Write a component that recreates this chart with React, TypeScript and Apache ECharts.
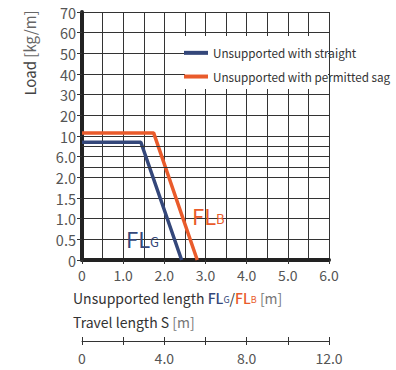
import React, { useEffect, useRef } from "react";
import * as echarts from "echarts";

// ---- data ----
const xMax = 6;
const yTickValues = [0, 0.5, 1, 1.5, 2, 6, 10, 20, 30, 40, 50, 60, 70];
const yTickLabels = ["0", "0.5", "1.0", "1.5", "2.0", "6.0", "10", "20", "30", "40", "50", "60", "70"];
const extraGridLoads = [4, 8];
const straightLength = [0, 1.43, 2.42];
const straightLoad = [8.8, 8.8, 0];
const sagLength = [0, 1.74, 2.8];
const sagLoad = [11.5, 11.5, 0];
const travelMax = 12;
const travelLabelled = [0, 4, 8, 12];
const seriesNames = ["Unsupported with straight", "Unsupported with permitted sag"];

const FONT = '"Noto Sans CJK JP", "Noto Sans", sans-serif';
const BLUE = "#34477a";
const ORANGE = "#e95b2b";
const GRID = "#333";

// piecewise mapping from load value to position on the (non-linear) load axis
function loadToPos(v: number): number {
  for (let i = 1; i < yTickValues.length; i++) {
    const a = yTickValues[i - 1];
    const b = yTickValues[i];
    if (v <= b) return i - 1 + (v - a) / (b - a);
  }
  return yTickValues.length - 1;
}

const fmtNum = (v: number) => (v === 0 ? "0" : v.toFixed(1));

export default function App() {
  const ref = useRef<HTMLDivElement>(null);
  useEffect(() => {
    if (!ref.current) return;
    const chart = echarts.init(ref.current, null, { renderer: "svg" });
    const option: any = {
      animation: false,
      textStyle: { fontFamily: FONT },
      grid: [
        { left: 82, top: 12, width: 247, height: 248 },
        { left: 82, top: 340, width: 247, height: 1 },
      ],
      xAxis: [
        {
          type: "value",
          gridIndex: 0,
          min: 0,
          max: xMax,
          interval: 1,
          axisLine: { show: true, onZero: false, lineStyle: { color: "#222", width: 4 } },
          axisTick: { show: true, length: 4, lineStyle: { color: GRID } },
          axisLabel: { formatter: fmtNum, color: "#555", fontSize: 14, margin: 8, fontFamily: FONT },
          splitLine: { show: true, lineStyle: { color: GRID, width: 1 } },
          minorTick: { show: false, splitNumber: 2 },
          minorSplitLine: { show: true, lineStyle: { color: GRID, width: 1 } },
        },
        {
          type: "value",
          gridIndex: 1,
          min: 0,
          max: travelMax,
          interval: 2,
          position: "bottom",
          axisLine: { show: true, onZero: false, lineStyle: { color: GRID, width: 1 } },
          axisTick: { show: true, length: 4, lineStyle: { color: GRID } },
          axisLabel: {
            formatter: (v: number) => (travelLabelled.includes(v) ? fmtNum(v) : ""),
            color: "#555",
            fontSize: 14,
            margin: 10,
            fontFamily: FONT,
          },
          splitLine: { show: false },
        },
        {
          type: "value",
          gridIndex: 1,
          min: 0,
          max: travelMax,
          interval: 2,
          position: "bottom",
          axisLine: { show: false },
          axisTick: { show: true, inside: true, length: 4, lineStyle: { color: GRID } },
          axisLabel: { show: false },
          splitLine: { show: false },
        },
      ],
      yAxis: [
        {
          type: "value",
          gridIndex: 0,
          min: 0,
          max: yTickValues.length - 1,
          interval: 1,
          axisLine: { show: true, onZero: false, lineStyle: { color: "#222", width: 4 } },
          axisTick: { show: true, length: 5, lineStyle: { color: GRID } },
          axisLabel: {
            formatter: (v: number) => yTickLabels[Math.round(v)] ?? "",
            color: "#555",
            fontSize: 14.5,
            margin: 6,
            fontFamily: FONT,
          },
          splitLine: { show: true, lineStyle: { color: GRID, width: 1 } },
        },
        { type: "value", gridIndex: 1, show: false, min: 0, max: 1 },
      ],
      legend: {
        data: seriesNames,
        orient: "vertical",
        left: 184,
        top: 47,
        padding: 0,
        itemWidth: 24,
        itemHeight: 4,
        itemGap: 12,
        icon: "rect",
        z: 6,
        textStyle: { fontSize: 11.7, color: "#333", fontFamily: FONT },
      },
      series: [
        {
          name: "grid-extra",
          type: "line",
          data: [],
          z: 1,
          silent: true,
          markLine: {
            silent: true,
            symbol: ["none", "none"],
            label: { show: false },
            lineStyle: { color: GRID, width: 1, type: "solid" },
            data: extraGridLoads.map((v) => ({ yAxis: loadToPos(v) })),
          },
        },
        {
          name: seriesNames[0],
          type: "line",
          xAxisIndex: 0,
          yAxisIndex: 0,
          showSymbol: false,
          symbol: "none",
          color: BLUE,
          lineStyle: { color: BLUE, width: 3.5 },
          data: straightLength.map((x, i) => [x, loadToPos(straightLoad[i])]),
        },
        {
          name: seriesNames[1],
          type: "line",
          xAxisIndex: 0,
          yAxisIndex: 0,
          showSymbol: false,
          symbol: "none",
          color: ORANGE,
          lineStyle: { color: ORANGE, width: 3.5 },
          data: sagLength.map((x, i) => [x, loadToPos(sagLoad[i])]),
        },
      ],
      graphic: [
        {
          type: "rect",
          z: 3,
          shape: { x: 185, y: 36, width: 143, height: 53 },
          style: { fill: "#fff" },
          silent: true,
        },
        {
          type: "text",
          x: 29,
          y: 53,
          rotation: Math.PI / 2,
          style: {
            text: "{a|Load }{b|[kg/m]}",
            align: "center",
            verticalAlign: "middle",
            rich: {
              a: { fontSize: 15, fill: "#444", fontFamily: FONT },
              b: { fontSize: 15, fill: "#666", fontFamily: FONT },
            },
          },
        },
        {
          type: "text",
          x: 73,
          y: 298,
          style: {
            text: "{a|Unsupported length }{fb|FL}{sb|G}{a|/}{fo|FL}{so|B}{m| [m]}",
            verticalAlign: "middle",
            rich: {
              a: { fontSize: 14, fill: "#333", fontFamily: FONT, verticalAlign: "bottom" },
              fb: { fontSize: 14, fill: BLUE, fontFamily: FONT, fontWeight: 500, verticalAlign: "bottom" },
              sb: { fontSize: 9, fill: BLUE, fontFamily: FONT, verticalAlign: "bottom", padding: [0, 0, 1, 0] },
              fo: { fontSize: 14, fill: ORANGE, fontFamily: FONT, fontWeight: 500, verticalAlign: "bottom" },
              so: { fontSize: 9, fill: ORANGE, fontFamily: FONT, verticalAlign: "bottom", padding: [0, 0, 1, 0] },
              m: { fontSize: 14, fill: "#777", fontFamily: FONT, verticalAlign: "bottom" },
            },
          },
        },
        {
          type: "text",
          x: 73,
          y: 322,
          style: {
            text: "{a|Travel length S}{m| [m]}",
            verticalAlign: "middle",
            rich: {
              a: { fontSize: 14, fill: "#333", fontFamily: FONT },
              m: { fontSize: 14, fill: "#777", fontFamily: FONT },
            },
          },
        },
        {
          type: "text",
          x: 126,
          y: 238,
          z: 5,
          style: {
            text: "{f|FL}{s|G}",
            verticalAlign: "middle",
            rich: {
              f: { fontSize: 22, fill: BLUE, fontFamily: FONT, verticalAlign: "bottom" },
              s: { fontSize: 13, fill: BLUE, fontFamily: FONT, verticalAlign: "bottom", padding: [0, 0, 1, 0] },
            },
          },
        },
        {
          type: "text",
          x: 192,
          y: 215,
          z: 5,
          style: {
            text: "{f|FL}{s|B}",
            verticalAlign: "middle",
            rich: {
              f: { fontSize: 22, fill: ORANGE, fontFamily: FONT, verticalAlign: "bottom" },
              s: { fontSize: 13, fill: ORANGE, fontFamily: FONT, verticalAlign: "bottom", padding: [0, 0, 1, 0] },
            },
          },
        },
      ],
    };
    chart.setOption(option);
    return () => chart.dispose();
  }, []);
  return <div ref={ref} style={{ width: 396, height: 370, position: "absolute", left: 0, top: 0 }} />;
}
